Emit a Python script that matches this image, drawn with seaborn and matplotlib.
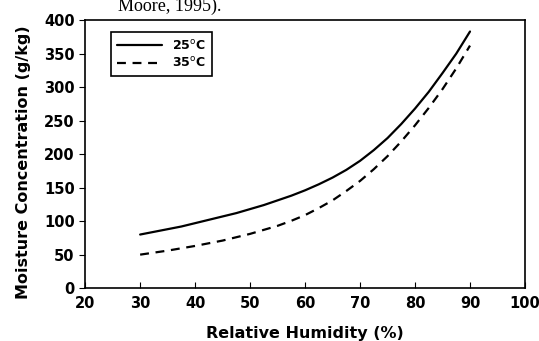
import matplotlib
matplotlib.use("Agg")
from matplotlib import pyplot as plt
import pandas as pd
import seaborn as sns

rh = [30, 32.5, 35, 37.5, 40, 42.5, 45, 47.5, 50, 52.5, 55, 57.5, 60,
      62.5, 65, 67.5, 70, 72.5, 75, 77.5, 80, 82.5, 85, 87.5, 90]
mc_25 = [80, 84, 88, 92, 97, 102, 107, 112, 118, 124, 131, 138, 146,
         155, 165, 176.5, 190, 206, 224, 245, 268, 293, 321, 350, 383]
mc_35 = [50, 53, 56, 59.5, 63, 67, 71, 76, 81, 87, 93, 100.5, 109,
         119.5, 131, 145, 160, 177.5, 197, 219, 243, 269, 297, 328, 362]
labels = [r"25$^{\mathrm{o}}$C", r"35$^{\mathrm{o}}$C"]

df = pd.DataFrame({
    "rh": rh * 2,
    "mc": mc_25 + mc_35,
    "temp": [labels[0]] * len(rh) + [labels[1]] * len(rh),
})

sns.set_style("ticks")
plt.rcParams["font.family"] = ["DejaVu Sans"]
plt.rcParams["text.color"] = "black"
plt.rcParams["axes.labelcolor"] = "black"
plt.rcParams["xtick.color"] = "black"
plt.rcParams["ytick.color"] = "black"

fig = plt.figure(figsize=(5.39, 3.41), dpi=100)
ax = fig.add_axes([0.158, 0.155, 0.816, 0.786])

sns.lineplot(data=df, x="rh", y="mc", style="temp", color="black",
             dashes={labels[0]: "", labels[1]: (4, 3)}, linewidth=1.6, ax=ax)

ax.set_xlim(20, 100)
ax.set_ylim(0, 400)
ax.set_xticks(range(20, 101, 10))
ax.set_yticks(range(0, 401, 50))
ax.tick_params(axis="x", direction="in", length=4, labelsize=10.5, pad=6)
ax.tick_params(axis="y", direction="out", length=4, labelsize=10.5)
for lab in ax.get_xticklabels() + ax.get_yticklabels():
    lab.set_fontweight("semibold")
for s in ax.spines.values():
    s.set_linewidth(1.2)
    s.set_edgecolor("black")
    s.set_visible(True)

ax.set_xlabel("Relative Humidity (%)", fontsize=11.5, fontweight="semibold")
ax.set_ylabel("Moisture Concentration (g/kg)", fontsize=11.5, fontweight="semibold")
ax.xaxis.set_label_coords(0.5, -0.142)
ax.yaxis.set_label_coords(-0.123, 0.47)

leg = ax.legend(loc="upper left", bbox_to_anchor=(0.059, 0.955), borderaxespad=0,
                fancybox=False, edgecolor="black", framealpha=1, handlelength=3.6,
                prop={"size": 9, "weight": "bold"}, borderpad=0.5, labelspacing=0.3)
leg.get_frame().set_linewidth(1.2)

# caption fragment from the page above, clipped at the top edge like the scan
fig.text(118 / 539, 1 - 11 / 341, "Moore, 1995).", family="Liberation Serif",
         fontsize=13, va="baseline", ha="left")

fig.savefig("out.png", dpi=100)
